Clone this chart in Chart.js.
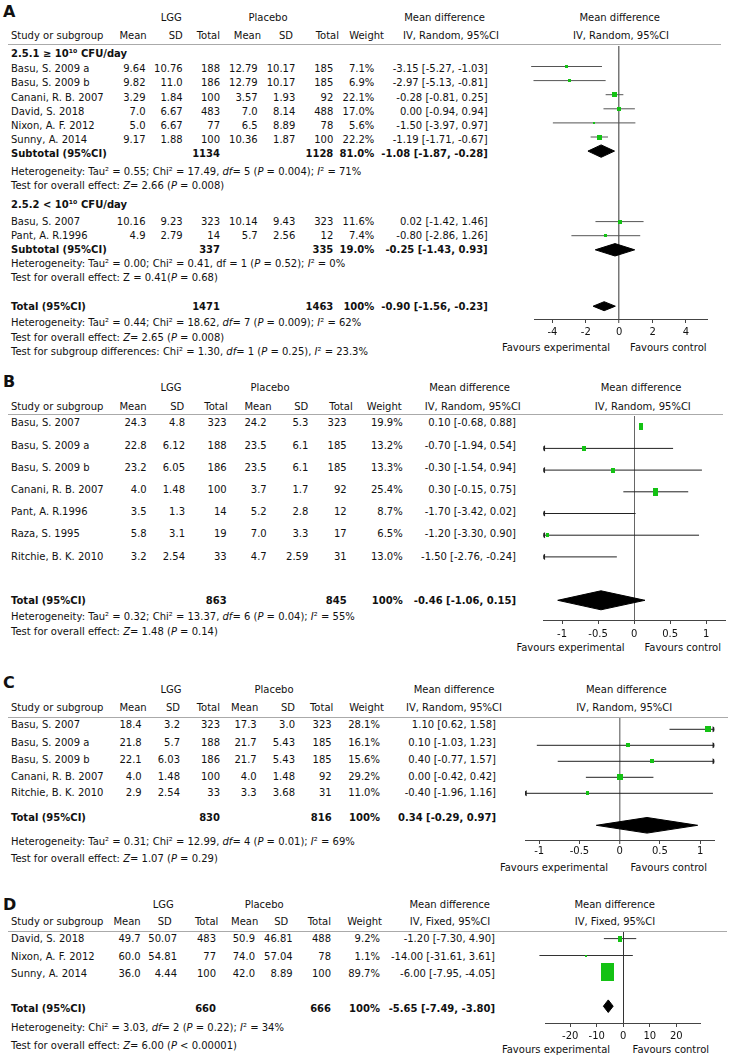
<!DOCTYPE html>
<html>
<head>
<meta charset="utf-8">
<script src="https://cdn.jsdelivr.net/npm/chart.js@4.4.1/dist/chart.umd.min.js"></script>
<style>
html, body { margin: 0; padding: 0; background: #fff; }
#page { position: relative; width: 738px; height: 1062px; overflow: hidden; background: #fff; }
.t { position: absolute; white-space: nowrap; font-family: 'DejaVu Sans', sans-serif; font-size: 10px; line-height: 12px; color: #111; }
.b { font-weight: bold; }
.letter { font-size: 16px; font-weight: bold; }
.rule { position: absolute; height: 0; border-top: 1px solid #aaa; }
canvas { position: absolute; }
</style>
</head>
<body>
<div id="page"></div>
<script>
// ---- data: panel A ----
const aGroups = ['2.5.1 ≥ 10¹⁰ CFU/day', '2.5.2 &lt; 10¹⁰ CFU/day'];
const aStudies = ['Basu, S. 2009 a', 'Basu, S. 2009 b', 'Canani, R. B. 2007', 'David, S. 2018', 'Nixon, A. F. 2012', 'Sunny, A. 2014', 'Basu, S. 2007', 'Pant, A. R.1996'];
const aLggMean = ['9.64', '9.82', '3.29', '7.0', '5.0', '9.17', '10.16', '4.9'];
const aLggSD = ['10.76', '11.0', '1.84', '6.67', '6.67', '1.88', '9.23', '2.79'];
const aLggN = [188, 186, 100, 483, 77, 100, 323, 14];
const aPlMean = ['12.79', '12.79', '3.57', '7.0', '6.5', '10.36', '10.14', '5.7'];
const aPlSD = ['10.17', '10.17', '1.93', '8.14', '8.89', '1.87', '9.43', '2.56'];
const aPlN = [185, 185, 92, 488, 78, 100, 323, 12];
const aWeight = [7.1, 6.9, 22.1, 17.0, 5.6, 22.2, 11.6, 7.4];
const aMD = [-3.15, -2.97, -0.28, 0.00, -1.50, -1.19, 0.02, -0.80];
const aLo = [-5.27, -5.13, -0.81, -0.94, -3.97, -1.71, -1.42, -2.86];
const aHi = [-1.03, -0.81, 0.25, 0.94, 0.97, -0.67, 1.46, 1.26];
const aSumLabels = ['Subtotal (95%CI)', 'Subtotal (95%CI)', 'Total (95%CI)'];
const aSumLggN = [1134, 337, 1471];
const aSumPlN = [1128, 335, 1463];
const aSumWeight = ['81.0%', '19.0%', '100%'];
const aSumMD = [-1.08, -0.25, -0.90];
const aSumLo = [-1.87, -1.43, -1.56];
const aSumHi = [-0.28, 0.93, -0.23];
const aStats = [
  ['Heterogeneity: Tau² = 0.55; Chi² = 17.49, <i>df</i>= 5 (<i>P</i> = 0.004); <i>I</i>² = 71%',
   'Test for overall effect: <i>Z</i>= 2.66 (<i>P</i> = 0.008)'],
  ['Heterogeneity: Tau² = 0.00; Chi² = 0.41, df = 1 (<i>P</i> = 0.52); <i>I</i>² = 0%',
   'Test for overall effect: Z = 0.41(<i>P</i> = 0.68)'],
  ['Heterogeneity: Tau² = 0.44; Chi² = 18.62, <i>df</i>= 7 (<i>P</i> = 0.009); <i>I</i>² = 62%',
   'Test for overall effect: <i>Z</i>= 2.65 (<i>P</i> = 0.008)',
   'Test for subgroup differences: Chi² = 1.30, <i>df</i>= 1 (<i>P</i> = 0.25), <i>I</i>² = 23.3%']
];
const aTicks = [-4, -2, 0, 2, 4];
const aTickLabels = ['-4', '-2', '0', '2', '4'];

// ---- data: panel B ----
const bStudies = ['Basu, S. 2007', 'Basu, S. 2009 a', 'Basu, S. 2009 b', 'Canani, R. B. 2007', 'Pant, A. R.1996', 'Raza, S. 1995', 'Ritchie, B. K. 2010'];
const bLggMean = ['24.3', '22.8', '23.2', '4.0', '3.5', '5.8', '3.2'];
const bLggSD = ['4.8', '6.12', '6.05', '1.48', '1.3', '3.1', '2.54'];
const bLggN = [323, 188, 186, 100, 14, 19, 33];
const bPlMean = ['24.2', '23.5', '23.5', '3.7', '5.2', '7.0', '4.7'];
const bPlSD = ['5.3', '6.1', '6.1', '1.7', '2.8', '3.3', '2.59'];
const bPlN = [323, 185, 185, 92, 12, 17, 31];
const bWeight = [19.9, 13.2, 13.3, 25.4, 8.7, 6.5, 13.0];
const bMD = [0.10, -0.70, -0.30, 0.30, -1.70, -1.20, -1.50];
const bLo = [-0.68, -1.94, -1.54, -0.15, -3.42, -3.30, -2.76];
const bHi = [0.88, 0.54, 0.94, 0.75, 0.02, 0.90, -0.24];
const bCIDrawn = [false, true, true, true, true, true, true];
const bSumLabels = ['Total (95%CI)'];
const bSumLggN = [863];
const bSumPlN = [845];
const bSumWeight = ['100%'];
const bSumMD = [-0.46];
const bSumLo = [-1.06];
const bSumHi = [0.15];
const bStats = [[
  'Heterogeneity: Tau² = 0.32; Chi² = 13.37, <i>df</i>= 6 (<i>P</i> = 0.04); <i>I</i>² = 55%',
  'Test for overall effect: <i>Z</i>= 1.48 (<i>P</i> = 0.14)'
]];
const bTicks = [-1, -0.5, 0, 0.5, 1];
const bTickLabels = ['-1', '-0.5', '0', '0.5', '1'];

// ---- data: panel C ----
const cStudies = ['Basu, S. 2007', 'Basu, S. 2009 a', 'Basu, S. 2009 b', 'Canani, R. B. 2007', 'Ritchie, B. K. 2010'];
const cLggMean = ['18.4', '21.8', '22.1', '4.0', '2.9'];
const cLggSD = ['3.2', '5.7', '6.03', '1.48', '2.54'];
const cLggN = [323, 188, 186, 100, 33];
const cPlMean = ['17.3', '21.7', '21.7', '4.0', '3.3'];
const cPlSD = ['3.0', '5.43', '5.43', '1.48', '3.68'];
const cPlN = [323, 185, 185, 92, 31];
const cWeight = [28.1, 16.1, 15.6, 29.2, 11.0];
const cMD = [1.10, 0.10, 0.40, 0.00, -0.40];
const cLo = [0.62, -1.03, -0.77, -0.42, -1.96];
const cHi = [1.58, 1.23, 1.57, 0.42, 1.16];
const cSumLabels = ['Total (95%CI)'];
const cSumLggN = [830];
const cSumPlN = [816];
const cSumWeight = ['100%'];
const cSumMD = [0.34];
const cSumLo = [-0.29];
const cSumHi = [0.97];
const cStats = [[
  'Heterogeneity: Tau² = 0.31; Chi² = 12.99, <i>df</i>= 4 (<i>P</i> = 0.01); <i>I</i>² = 69%',
  'Test for overall effect: <i>Z</i>= 1.07 (<i>P</i> = 0.29)'
]];
const cTicks = [-1, -0.5, 0, 0.5, 1];
const cTickLabels = ['-1', '-0.5', '0', '0.5', '1'];

// ---- data: panel D ----
const dStudies = ['David, S. 2018', 'Nixon, A. F. 2012', 'Sunny, A. 2014'];
const dLggMean = ['49.7', '60.0', '36.0'];
const dLggSD = ['50.07', '54.81', '4.44'];
const dLggN = [483, 77, 100];
const dPlMean = ['50.9', '74.0', '42.0'];
const dPlSD = ['46.81', '57.04', '8.89'];
const dPlN = [488, 78, 100];
const dWeight = [9.2, 1.1, 89.7];
const dMD = [-1.20, -14.00, -6.00];
const dLo = [-7.30, -31.61, -7.95];
const dHi = [4.90, 3.61, -4.05];
const dSumLabels = ['Total (95%CI)'];
const dSumLggN = [660];
const dSumPlN = [666];
const dSumWeight = ['100%'];
const dSumMD = [-5.65];
const dSumLo = [-7.49];
const dSumHi = [-3.80];
const dStats = [[
  'Heterogeneity: Chi² = 3.03, <i>df</i>= 2 (<i>P</i> = 0.22); <i>I</i>² = 34%',
  'Test for overall effect: <i>Z</i>= 6.00 (<i>P</i> &lt; 0.00001)'
]];
const dTicks = [-20, -10, 0, 10, 20];
const dTickLabels = ['-20', '-10', '0', '10', '20'];

const columnTitles = ['Mean', 'SD', 'Total', 'Mean', 'SD', 'Total', 'Weight'];
const methodRandom = 'IV, Random, 95%CI';
const methodFixed = 'IV, Fixed, 95%CI';

// ---- page helpers ----
const W = 738;
const page = document.getElementById('page');
const green = '#14c214';

function txt(x, y, html, align, cls) {
  const d = document.createElement('div');
  d.className = 't' + (cls ? ' ' + cls : '');
  d.innerHTML = html;
  d.style.top = y + 'px';
  if (align === 'r') {
    d.style.right = (W - x) + 'px';
    d.style.transform = 'translateY(-50%)';
  } else if (align === 'c') {
    d.style.left = x + 'px';
    d.style.transform = 'translate(-50%,-50%)';
  } else {
    d.style.left = x + 'px';
    d.style.transform = 'translateY(-50%)';
  }
  page.appendChild(d);
}

function rule(x1, x2, y) {
  const d = document.createElement('div');
  d.className = 'rule';
  d.style.left = x1 + 'px';
  d.style.width = (x2 - x1) + 'px';
  d.style.top = y + 'px';
  page.appendChild(d);
}

const ci = (m, l, h) => m.toFixed(2) + ' [' + l.toFixed(2) + ', ' + h.toFixed(2) + ']';

function box(w, h) {
  const c = document.createElement('canvas');
  c.width = Math.round(w);
  c.height = Math.round(h);
  const g = c.getContext('2d');
  g.fillStyle = green;
  g.fillRect(0, 0, c.width, c.height);
  return c;
}

// ---- chart for the plot column ----
function makeChart(p, C) {
  const axisH = 40, padT = 8;
  const left = Math.round(C.left - 30);
  const top = C.top - padT;
  const cv = document.createElement('canvas');
  cv.width = Math.round(C.right - left + 12);
  cv.height = Math.round(C.axisY - top + axisH);
  cv.style.left = left + 'px';
  cv.style.top = top + 'px';
  page.appendChild(cv);

  const padL = C.left - left;
  const padR = cv.width - (C.right - left);
  const bottom = top + cv.height - axisH;
  const yOf = px => (px - C.base) / C.step;

  const datasets = [];
  // study squares
  datasets.push({
    data: p.md.map((m, i) => ({ x: m, y: C.slots[i] })),
    pointStyle: p.weight.map(w => box(Math.max(2, C.boxK[0] * Math.sqrt(w)), Math.max(2, C.boxK[1] * Math.sqrt(w)))),
    pointRadius: 3, pointHoverRadius: 3, showLine: false
  });
  // arrows where the CI leaves the axis
  if (C.arrows) {
    const arrows = [], rot = [];
    p.md.forEach((m, i) => {
      if (p.lo[i] < C.xMin) { arrows.push({ x: C.xMin, y: C.slots[i] }); rot.push(-90); }
      if (p.hi[i] > C.xMax) { arrows.push({ x: C.xMax, y: C.slots[i] }); rot.push(90); }
    });
    datasets.push({
      data: arrows, pointStyle: 'triangle', pointRotation: rot, pointRadius: 3.5,
      pointBackgroundColor: C.ciColor, pointBorderColor: C.ciColor, pointBorderWidth: 0, showLine: false
    });
  }
  // CI lines
  p.md.forEach((m, i) => {
    if (p.drawn && !p.drawn[i]) return;
    const ds = {
      data: [{ x: p.lo[i], y: C.slots[i] }, { x: p.hi[i], y: C.slots[i] }],
      showLine: true, borderColor: C.ciColor, borderWidth: 1, pointRadius: 0
    };
    if (!C.clip) ds.clip = false;
    datasets.push(ds);
  });
  // summary diamonds
  p.sumMD.forEach((m, k) => {
    const s = C.sumSlots[k], hh = C.diamondH[k] / C.step;
    datasets.push({
      data: [
        { x: p.sumLo[k], y: s }, { x: m, y: s - hh }, { x: p.sumHi[k], y: s },
        { x: m, y: s + hh }, { x: p.sumLo[k], y: s }
      ],
      showLine: true, fill: 'shape', backgroundColor: '#000', borderColor: '#000',
      borderWidth: 1, pointRadius: 0, clip: false
    });
  });

  new Chart(cv, {
    type: 'scatter',
    data: { datasets },
    options: {
      responsive: false,
      animation: false,
      devicePixelRatio: 1,
      layout: { padding: { left: padL, right: padR, top: padT, bottom: 0 } },
      plugins: { legend: { display: false }, tooltip: { enabled: false } },
      scales: {
        x: {
          type: 'linear', min: C.xMin, max: C.xMax,
          afterBuildTicks: s => { s.ticks = p.ticks.map(v => ({ value: v })); },
          afterFit: s => { s.height = axisH; },
          grid: {
            drawOnChartArea: true,
            color: c => (c.tick && c.tick.value === 0) ? C.zeroColor : 'rgba(0,0,0,0)',
            lineWidth: c => (c.tick && c.tick.value === 0) ? C.zeroW : 1,
            tickColor: '#444', tickWidth: 1, tickLength: 4
          },
          border: { display: true, color: '#444', width: 1 },
          ticks: {
            padding: C.tickPad, color: '#111', autoSkip: false, maxRotation: 0,
            font: { family: 'DejaVu Sans', size: 10 },
            callback: (v, i) => p.tickLabels[i]
          }
        },
        y: { type: 'linear', display: false, reverse: true, min: yOf(C.top), max: yOf(bottom) }
      }
    }
  });
}

// ---- table part ----
function renderPanel(p, L, C) {
  txt(3, L.letterY, p.letter, 'l', 'letter');
  txt(L.lggX, L.groupY, 'LGG', 'c');
  txt(L.plX, L.groupY, 'Placebo', 'c');
  txt(L.mdTitleX, L.groupY, 'Mean difference', 'c');
  txt(L.plotTitleX, L.groupY, 'Mean difference', 'c');
  txt(11, L.headY, 'Study or subgroup', 'l');
  columnTitles.forEach((t, i) => txt(L.hdrX[i], L.headY, t, 'r'));
  txt(L.mdHdrX, L.headY, p.method, 'c');
  txt(L.plotHdrX, L.headY, p.method, 'c');
  rule(L.ruleX[0], L.ruleX[1], L.ruleY);

  (p.groups || []).forEach((g, i) => txt(11, L.groupHdrY[i], g, 'l', 'b'));

  p.studies.forEach((name, i) => {
    const y = L.studyY[i];
    const cells = [p.lggMean[i], p.lggSD[i], p.lggN[i], p.plMean[i], p.plSD[i], p.plN[i],
      p.weight[i].toFixed(1) + '%', ci(p.md[i], p.lo[i], p.hi[i])];
    txt(11, y, name, 'l');
    cells.forEach((c, j) => txt(L.colX[j], y, c, 'r'));
  });

  p.sumLabels.forEach((lab, k) => {
    const y = L.sumY[k];
    txt(11, y, lab, 'l', 'b');
    txt(L.colX[2], y, p.sumLggN[k], 'r', 'b');
    txt(L.colX[5], y, p.sumPlN[k], 'r', 'b');
    txt(L.colX[6], y, p.sumWeight[k], 'r', 'b');
    txt(L.colX[7], y, ci(p.sumMD[k], p.sumLo[k], p.sumHi[k]), 'r', 'b');
    p.stats[k].forEach((s, j) => txt(11, L.statY[k][j], s, 'l'));
  });

  txt(L.favX[0], L.favY, 'Favours experimental', 'c');
  txt(L.favX[1], L.favY, 'Favours control', 'c');
  makeChart(p, C);
}

// ---- panels ----
const panelA = {
  letter: 'A', method: methodRandom, groups: aGroups, studies: aStudies,
  lggMean: aLggMean, lggSD: aLggSD, lggN: aLggN, plMean: aPlMean, plSD: aPlSD, plN: aPlN,
  weight: aWeight, md: aMD, lo: aLo, hi: aHi,
  sumLabels: aSumLabels, sumLggN: aSumLggN, sumPlN: aSumPlN, sumWeight: aSumWeight,
  sumMD: aSumMD, sumLo: aSumLo, sumHi: aSumHi, stats: aStats, ticks: aTicks, tickLabels: aTickLabels
};
const panelB = {
  letter: 'B', method: methodRandom, studies: bStudies,
  lggMean: bLggMean, lggSD: bLggSD, lggN: bLggN, plMean: bPlMean, plSD: bPlSD, plN: bPlN,
  weight: bWeight, md: bMD, lo: bLo, hi: bHi, drawn: bCIDrawn,
  sumLabels: bSumLabels, sumLggN: bSumLggN, sumPlN: bSumPlN, sumWeight: bSumWeight,
  sumMD: bSumMD, sumLo: bSumLo, sumHi: bSumHi, stats: bStats, ticks: bTicks, tickLabels: bTickLabels
};
const panelC = {
  letter: 'C', method: methodRandom, studies: cStudies,
  lggMean: cLggMean, lggSD: cLggSD, lggN: cLggN, plMean: cPlMean, plSD: cPlSD, plN: cPlN,
  weight: cWeight, md: cMD, lo: cLo, hi: cHi,
  sumLabels: cSumLabels, sumLggN: cSumLggN, sumPlN: cSumPlN, sumWeight: cSumWeight,
  sumMD: cSumMD, sumLo: cSumLo, sumHi: cSumHi, stats: cStats, ticks: cTicks, tickLabels: cTickLabels
};
const panelD = {
  letter: 'D', method: methodFixed, studies: dStudies,
  lggMean: dLggMean, lggSD: dLggSD, lggN: dLggN, plMean: dPlMean, plSD: dPlSD, plN: dPlN,
  weight: dWeight, md: dMD, lo: dLo, hi: dHi,
  sumLabels: dSumLabels, sumLggN: dSumLggN, sumPlN: dSumPlN, sumWeight: dSumWeight,
  sumMD: dSumMD, sumLo: dSumLo, sumHi: dSumHi, stats: dStats, ticks: dTicks, tickLabels: dTickLabels
};

// layout (pixel positions of text and plot areas)
const layA = {
  letterY: 12, groupY: 18, headY: 36, ruleY: 44, ruleX: [8, 721],
  lggX: 171.3, plX: 268, mdTitleX: 444.5, plotTitleX: 619.7,
  hdrX: [146.7, 182.7, 220, 261, 293, 339, 384], mdHdrX: 451, plotHdrX: 621,
  colX: [145.5, 182.7, 220, 257.7, 295.3, 333.3, 374.3, 487.7],
  groupHdrY: [54.3, 205],
  studyY: [69, 83.3, 97.7, 111.7, 126, 140, 221.7, 235.7],
  sumY: [154, 250, 306.7], statY: [[172, 186], [264, 278], [323, 337.7, 352]],
  favY: 348, favX: [556, 668.3]
};
const plotA = {
  xMin: -5.1, xMax: 5.3, left: 534, right: 707.7, top: 46, axisY: 319, base: 52.4, step: 14.1,
  slots: [1, 2, 3, 4, 5, 6, 12, 13], sumSlots: [7, 14, 18], diamondH: [6.2, 6.2, 4.5],
  boxK: [1.05, 1.05], ciColor: '#555', zeroColor: '#777', zeroW: 1.5, tickPad: 3, clip: false, arrows: false
};
const layB = {
  letterY: 381.7, groupY: 388, headY: 406.7, ruleY: 414.3, ruleX: [8, 723],
  lggX: 171, plX: 270, mdTitleX: 469.5, plotTitleX: 641,
  hdrX: [146.7, 184.3, 227.7, 271.7, 308.3, 352.7, 401.7], mdHdrX: 472.8, plotHdrX: 642.8,
  colX: [146.7, 185, 226.7, 266.7, 308.3, 346.7, 402.7, 516],
  studyY: [422.7, 445.7, 467.7, 490, 512.3, 534.3, 556.7],
  sumY: [601], statY: [[617, 631.5]],
  favY: 648.3, favX: [570.5, 682.7]
};
const plotB = {
  xMin: -1.26, xMax: 1.26, left: 543.3, right: 725, top: 416, axisY: 620, base: 405, step: 21.7,
  slots: [1, 2, 3, 4, 5, 6, 7], sumSlots: [9], diamondH: [9.5],
  boxK: [1.0, 1.5], ciColor: '#222', zeroColor: '#666', zeroW: 1, tickPad: 4, clip: true, arrows: true
};
const layC = {
  letterY: 683.3, groupY: 690, headY: 707.7, ruleY: 716.7, ruleX: [8, 728],
  lggX: 171, plX: 274, mdTitleX: 454, plotTitleX: 626.3,
  hdrX: [146.7, 180, 220, 258.3, 295, 333.3, 384], mdHdrX: 454, plotHdrX: 624.2,
  colX: [141.7, 180, 220, 256.7, 295, 331.7, 380, 496],
  studyY: [725, 742.7, 760, 776.7, 792.7],
  sumY: [818.3], statY: [[842.3, 859]],
  favY: 867.7, favX: [554, 668.7]
};
const plotC = {
  xMin: -1.177, xMax: 1.177, left: 525, right: 714.3, top: 718, axisY: 840, base: 713.3, step: 16,
  slots: [1, 2, 3, 4, 5], sumSlots: [7], diamondH: [7.8],
  boxK: [1.05, 1.1], ciColor: '#222', zeroColor: '#888', zeroW: 1.5, tickPad: 1, clip: true, arrows: true
};
const layD = {
  letterY: 905, groupY: 905, headY: 922.3, ruleY: 930.7, ruleX: [8, 727],
  lggX: 163.3, plX: 264.2, mdTitleX: 449.7, plotTitleX: 614.7,
  hdrX: [140.7, 171.7, 218.3, 258.3, 288.3, 331, 382], mdHdrX: 450, plotHdrX: 615,
  colX: [140.7, 177, 216, 255, 292.7, 331, 380, 495],
  studyY: [939, 956.7, 974],
  sumY: [1009.3], statY: [[1027.7, 1045.7]],
  favY: 1050, favX: [556, 670.8]
};
const plotD = {
  xMin: -29.5, xMax: 29.2, left: 545, right: 700.7, top: 932, axisY: 1023.3, base: 921.7, step: 16.9,
  slots: [1, 2, 3], sumSlots: [5], diamondH: [6.3],
  boxK: [1.4, 1.85], ciColor: '#333', zeroColor: '#333', zeroW: 1, tickPad: 3, clip: false, arrows: false
};

renderPanel(panelA, layA, plotA);
renderPanel(panelB, layB, plotB);
renderPanel(panelC, layC, plotC);
renderPanel(panelD, layD, plotD);
</script>
</body>
</html>
